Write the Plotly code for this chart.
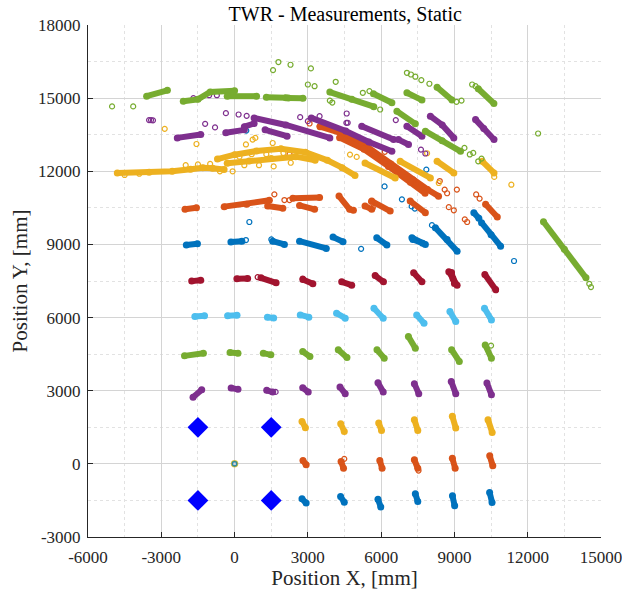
import plotly.graph_objects as go

# MATLAB default colour order
BLUE = "#0072BD"
ORANGE = "#D95319"
YELLOW = "#EDB120"
PURPLE = "#7E2F8E"
GREEN = "#77AC30"
LIGHTBLUE = "#4DBEEE"
DARKRED = "#A2142F"

# Axis ticks
x_ticks = [-6000, -3000, 0, 3000, 6000, 9000, 12000, 15000]
y_ticks = [-3000, 0, 3000, 6000, 9000, 12000, 15000, 18000]
x_tick_labels = ["-6000", "-3000", "0", "3000", "6000", "9000", "12000", "15000"]
y_tick_labels = ["-3000", "0", "3000", "6000", "9000", "12000", "15000", "18000"]

# Anchor positions [mm]
anchor_x = [-1500, 1500, -1500, 1500]
anchor_y = [1500, 1500, -1500, -1500]

# Dense measurement streaks per test row, each a list of (x, y) in mm
row_m1500 = [
    [(2760, -1430), (2930, -1610)], [(4340, -1340), (4490, -1570)],
    [(5870, -1450), (5985, -1770)], [(7400, -1230), (7500, -1540)],
    [(8920, -1310), (9010, -1720)], [(10440, -1170), (10540, -1580)],
]
row_0 = [
    [(2800, 140), (2930, -40)], [(4360, 95), (4460, -180)],
    [(5945, 140), (6040, -180)], [(7360, 165), (7500, -180)],
    [(8915, 230), (9030, -180)], [(10445, 330), (10570, -80)],
]
row_0_out = [(4490, 205), (7530, -275)]
row_1500 = [
    [(2760, 1740), (2900, 1480)], [(4345, 1650), (4490, 1330)],
    [(5900, 1680), (6015, 1370)], [(7360, 1810), (7500, 1370)],
    [(8915, 1950), (9055, 1470)], [(10375, 1810), (10545, 1290)],
]
row_3000 = [
    [(-1700, 2730), (-1345, 3040)], [(-140, 3110), (140, 3055)],
    [(1315, 3015), (1560, 2945)], [(2790, 3125), (3015, 2945)],
    [(4315, 3150), (4530, 2880)], [(5870, 3330), (6085, 2945)],
    [(7360, 3290), (7540, 2880)], [(8870, 3380), (9055, 2880)],
    [(10330, 3315), (10515, 2835)],
]
row_3000_out = [(1680, 2950)]
row_4500 = [
    [(-2050, 4430), (-1275, 4540)], [(-185, 4570), (140, 4540)],
    [(1175, 4540), (1485, 4470)], [(2790, 4610), (3085, 4405)],
    [(4245, 4680), (4600, 4365)], [(5830, 4680), (6125, 4335)],
    [(7115, 5225), (7400, 4745)], [(8885, 4680), (9200, 4200)],
    [(10260, 4880), (10515, 4335)],
]
row_4500_out = [(10500, 4850)]
row_6000 = [
    [(-1625, 6040), (-1230, 6070)], [(-285, 6070), (100, 6095)],
    [(1345, 6015), (1600, 5985)], [(2690, 6110), (3040, 6015)],
    [(4175, 6180), (4530, 5975)], [(5705, 6380), (6085, 5975)],
    [(7455, 6110), (7755, 5770)], [(8815, 6245), (9055, 5835)],
    [(10230, 6380), (10515, 5905)],
]
row_7500 = [
    [(-1755, 7495), (-1385, 7535)], [(95, 7590), (535, 7605)],
    [(1080, 7630), (1700, 7425)], [(2795, 7560), (3205, 7385)],
    [(4385, 7465), (4795, 7330)], [(5755, 7725), (6095, 7465)],
    [(7330, 7835), (7670, 7465)], [(8770, 7880), (8940, 7600), (9110, 7330)],
    [(8880, 7850), (9000, 7400)],
    [(10245, 7765), (10685, 7150)],
]
row_7500_out = [(945, 7660), (10700, 7120), (2790, 7600)]
row_9000 = [
    [(-1975, 8975), (-1520, 9025)], [(-150, 9095), (300, 9135)],
    [(1560, 9135), (2040, 9000)], [(2660, 9135), (3755, 8835)],
    [(4030, 9300), (4440, 9110)], [(5820, 9275), (6235, 8975)],
    [(7260, 9275), (7810, 9000)], [(7300, 9200), (7700, 9050)],
    [(8220, 9685), (8700, 9200), (9110, 8725)],
    [(9795, 10300), (10000, 10070)], [(10110, 9890), (10500, 9400), (10890, 8930)],
]
row_9000_out = [
    (605, 9920), (465, 9180), (1505, 9205), (5180, 8820), (8080, 9790),
    (11440, 8320), (6850, 10850), (7250, 10560), (7380, 10470),
    (7850, 12070), (6140, 11380), (480, 13670),
]
row_10500 = [
    [(-2030, 10440), (-1560, 10505)],
    [(-425, 10550), (500, 10650), (1425, 10810)],
    [(1355, 10575), (1975, 10480)], [(2385, 10890), (3480, 10920)],
    [(2660, 10600), (3275, 10440)],
    [(4275, 10985), (4710, 10440), (4865, 10400)],
    [(5340, 10575), (5615, 10440)], [(5615, 10780), (6370, 10370)],
    [(7190, 10780), (7810, 10300)], [(10275, 10645), (10755, 10125)],
    # long diagonal band towards the upper right
    [(3500, 13830), (4400, 13550), (5200, 13170), (6400, 12300),
     (7300, 11650), (7900, 11250), (8350, 10980)],
    [(4300, 13380), (5300, 12900), (6300, 12200), (7200, 11550), (7800, 11100)],
]
row_10500_out = [
    (1630, 11055), (2040, 10820), (2250, 10820), (5590, 10750), (5660, 10510),
    (8770, 10530), (8975, 10400), (9425, 10030), (9520, 9920), (9890, 11050),
    (10030, 10880), (3070, 13960), (3480, 13850), (6150, 12800), (8400, 11600),
    (8600, 11250), (8700, 11100), (9100, 11250), (7400, 11500), (2250, 12700),
]
row_12000 = [
    [(-4800, 11930), (-3500, 11960), (-2550, 12000), (-1800, 12080),
     (-1300, 12140), (-900, 12120), (-430, 12070)],
    [(-700, 12500), (0, 12680), (900, 12830), (1900, 12920), (2900, 12780),
     (3800, 12450), (4400, 12150), (4930, 11830)],
    [(-300, 12330), (600, 12420), (1500, 12520), (2500, 12600), (3300, 12450)],
    [(5340, 12340), (6575, 11725)], [(6780, 12410), (8015, 11725)],
    [(8290, 12410), (8975, 11930)], [(10140, 12410), (10620, 11930)],
]
row_12000_out = [
    (-2860, 13740), (-1560, 13120), (465, 13100), (740, 13300), (850, 13370),
    (1560, 13160), (-80, 12000), (4725, 12685), (5000, 12590), (7880, 12740),
    (8360, 11520), (10630, 11770), (11330, 11450), (-1000, 12300), (-600, 12000),
    (1000, 12250), (1600, 12200), (200, 12600), (700, 12700), (1300, 12700),
    (2000, 12750), (-4500, 11850), (-3900, 11900), (-2000, 12250), (-1500, 12280),
    (400, 12250), (2300, 12350),
]
row_13500 = [
    [(-2345, 13370), (-1385, 13505)],
    [(-360, 13580), (400, 13700)], [(400, 13830), (800, 13960)],
    [(800, 14190), (2100, 13900), (3900, 13370)],
    [(1250, 13700), (2150, 13440)],
    [(3140, 14190), (4550, 13650), (5500, 13200), (6440, 12820)],
    [(5205, 13850), (6510, 13300)], [(6710, 13300), (7120, 13100)],
    [(7055, 13850), (7670, 13440)],
    [(8015, 14260), (8500, 13900), (8975, 13370)],
    [(9865, 14120), (10200, 13750), (10620, 13300)],
]
row_13500_out = [
    (-3500, 14100), (-3420, 14100), (-3340, 14090), (-355, 14385), (165, 14330),
    (495, 14275), (-1205, 13945), (2685, 14220), (3000, 14055), (3480, 14260),
    (4576, 13986), (4590, 14370), (4630, 13990), (7630, 12890), (7810, 12730),
    (6600, 14100), (-1685, 15000), (-1040, 15120), (-725, 15120), (-800, 13800),
]
row_15000 = [
    [(-3600, 15080), (-2750, 15320)],
    [(-2100, 14870), (-1500, 14950), (-1000, 15250), (0, 15300)],
    [(-300, 15080), (900, 15080)], [(1300, 15040), (2100, 15020)],
    [(2200, 15010), (2800, 15000)],
    [(3900, 15250), (4800, 14950), (5700, 14650)],
    [(5685, 15180), (6440, 14810)], [(7055, 15220), (7670, 14920)],
    [(8290, 15450), (8900, 14920)], [(9975, 15385), (10615, 14780)],
    [(6645, 14465), (7400, 13945)],
    [(7810, 13645), (8500, 13250), (9250, 12820)],
    [(12645, 9930), (13500, 8800), (14385, 7630)],
]
row_15000_out = [
    (-5015, 14660), (-4150, 14660), (1795, 16480), (1575, 16150), (2290, 16370),
    (3125, 16220), (3000, 15560), (3275, 15490), (4140, 15670), (7055, 16040),
    (7220, 15970), (7400, 15880), (7645, 15740), (7975, 15590), (9725, 15560),
    (9865, 15490), (9085, 14850), (9290, 14900), (5250, 15220), (5520, 15290),
    (5960, 14535), (12425, 13550), (9410, 12960), (9630, 12690), (9770, 12755),
    (9975, 12410), (10110, 12520), (14520, 7385), (14590, 7250), (3900, 14900),
    (4000, 14820),
]

series = [
    (BLUE, row_m1500, []), (ORANGE, row_0, row_0_out),
    (YELLOW, row_1500, []), (PURPLE, row_3000, row_3000_out),
    (GREEN, row_4500, row_4500_out), (LIGHTBLUE, row_6000, []),
    (DARKRED, row_7500, row_7500_out), (BLUE, row_9000, row_9000_out),
    (ORANGE, row_10500, row_10500_out), (YELLOW, row_12000, row_12000_out),
    (PURPLE, row_13500, row_13500_out), (GREEN, row_15000, row_15000_out),
]

fig = go.Figure()
for color, streaks, outliers in series:
    xs, ys = [], []
    for s in streaks:
        xs += [p[0] for p in s] + [None]
        ys += [p[1] for p in s] + [None]
    fig.add_trace(go.Scatter(
        x=xs, y=ys, mode="lines+markers", connectgaps=False,
        line=dict(color=color, width=6),
        marker=dict(color=color, size=7),
        hoverinfo="skip", showlegend=False))
    if outliers:
        fig.add_trace(go.Scatter(
            x=[p[0] for p in outliers], y=[p[1] for p in outliers],
            mode="markers",
            marker=dict(symbol="circle-open", color=color, size=5,
                        line=dict(width=1.2)),
            hoverinfo="skip", showlegend=False))

# origin reference point
fig.add_trace(go.Scatter(
    x=[0, 0, 0], y=[0, 0, 0], mode="markers",
    marker=dict(symbol="circle-open", color=[YELLOW, GREEN, BLUE],
                size=[6, 5, 4], line=dict(width=1.5)),
    hoverinfo="skip", showlegend=False))

# anchors
fig.add_trace(go.Scatter(
    x=anchor_x, y=anchor_y, mode="markers",
    marker=dict(symbol="diamond", color="#0000FF", size=16),
    hoverinfo="skip", showlegend=False))

font = "Liberation Serif"
axis_common = dict(
    showgrid=True, gridcolor="#D4D4D4", gridwidth=1,
    showline=True, linecolor="#262626", linewidth=1,
    ticks="inside", ticklen=5, tickcolor="#262626",
    zeroline=False, automargin=False, ticklabeloverflow="allow",
    tickfont=dict(family=font, size=17, color="#262626"),
    minor=dict(showgrid=True, dtick=1500, griddash="dot",
               gridcolor="#E2E2E2", gridwidth=1, ticks=""),
)

fig.update_layout(
    width=622, height=590,
    margin=dict(l=88, r=21, t=25, b=53),
    plot_bgcolor="white", paper_bgcolor="white",
    title=dict(text="TWR - Measurements, Static", x=0.555, xanchor="center",
               y=1 - 14 / 590, yanchor="middle", yref="container",
               font=dict(family=font, size=20, color="#000000")),
    xaxis=dict(range=[-6000, 15000], tickmode="array", tickvals=x_ticks,
               ticktext=x_tick_labels, ticklabelstandoff=5,
               minor_tick0=-6000,
               title=dict(text="Position X, [mm]", standoff=4,
                          font=dict(family=font, size=21, color="#262626")),
               **axis_common),
    yaxis=dict(range=[-3000, 18000], tickmode="array", tickvals=y_ticks,
               ticktext=y_tick_labels, ticklabelstandoff=3,
               minor_tick0=-3000,
               title=dict(text="Position Y, [mm]", standoff=4,
                          font=dict(family=font, size=21, color="#262626")),
               **axis_common),
)

fig.write_html("out.html")
